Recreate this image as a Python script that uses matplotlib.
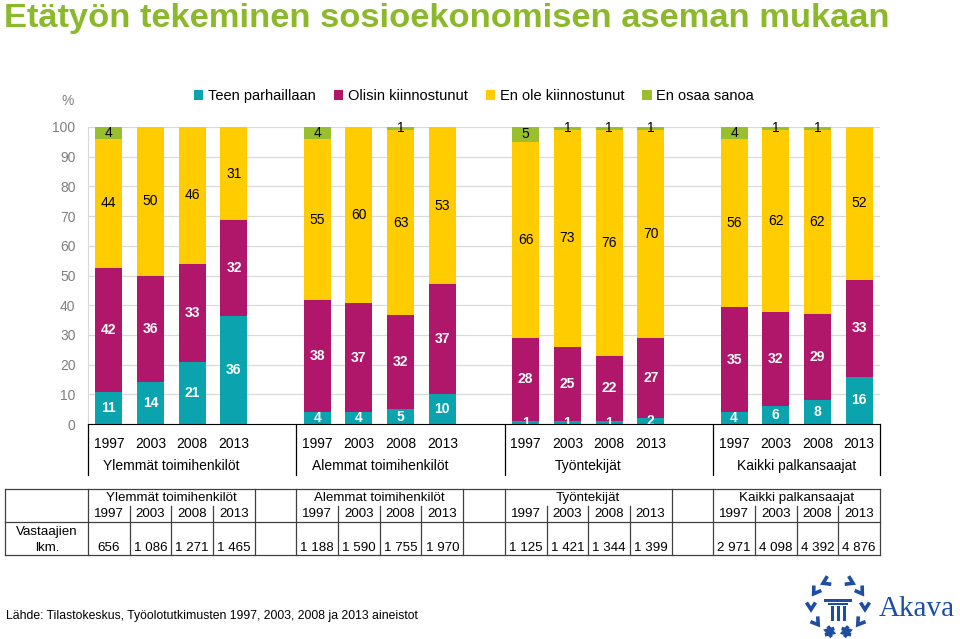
import numpy as np
import matplotlib
matplotlib.use('Agg')
import matplotlib.pyplot as plt
from matplotlib.patches import Rectangle

plt.rcParams['font.family'] = ['Liberation Sans', 'DejaVu Sans']

# data
years = ['1997', '2003', '2008', '2013']
groups = ['Ylemmät toimihenkilöt', 'Alemmat toimihenkilöt', 'Työntekijät', 'Kaikki palkansaajat']
series_names = ['Teen parhaillaan', 'Olisin kiinnostunut', 'En ole kiinnostunut', 'En osaa sanoa']
teen = [11, 14, 21, 36, 4, 4, 5, 10, 1, 1, 1, 2, 4, 6, 8, 16]
olisin = [42, 36, 33, 32, 38, 37, 32, 37, 28, 25, 22, 27, 35, 32, 29, 33]
en_ole = [44, 50, 46, 31, 55, 60, 63, 53, 66, 73, 76, 70, 56, 62, 62, 52]
en_osaa = [4, 0, 0, 0, 4, 0, 1, 0, 5, 1, 1, 1, 4, 1, 1, 0]
respondents = [656, 1086, 1271, 1465, 1188, 1590, 1755, 1970,
               1125, 1421, 1344, 1399, 2971, 4098, 4392, 4876]

colors = ['#0AA3AE', '#B0176B', '#FFCC00', '#99BF2E']
label_colors = ['white', 'white', 'black', 'black']
label_weights = ['bold', 'bold', 'normal', 'normal']

W, H = 960, 639
fig = plt.figure(figsize=(9.6, 6.39), dpi=100)


def fx(px):
    return px / W


def fy(py):
    return 1 - py / H


# main chart, x in "slots": 4 bars + 1 empty slot per group
ax = fig.add_axes([fx(88), fy(424), fx(880 - 88), fy(127) - fy(424)])
x = np.array([g * 5 + i for g in range(len(groups)) for i in range(len(years))])

raw = np.array([teen, olisin, en_ole, en_osaa], dtype=float)
share = raw / raw.sum(axis=0) * 100

bottom = np.zeros(len(x))
handles = []
for k in range(4):
    b = ax.bar(x, share[k], 0.65, bottom=bottom, color=colors[k], label=series_names[k], zorder=3)
    handles.append(b)
    for xi, bi, hi, v in zip(x, bottom, share[k], raw[k]):
        if v > 0:
            ax.text(xi, bi + hi / 2, f'{int(v)}', ha='center', va='center', fontsize=10,
                    color=label_colors[k], fontweight=label_weights[k], zorder=4, clip_on=False)
    bottom += share[k]

ax.set_xlim(-0.5, 18.5)
ax.set_ylim(0, 100)
ax.set_yticks(range(0, 101, 10))
ax.tick_params(axis='y', length=0, pad=9, labelsize=10, labelcolor='#7F7F7F')
ax.set_xticks(x)
ax.set_xticklabels(years * len(groups))
ax.tick_params(axis='x', length=0, pad=9, labelsize=10)
ax.grid(axis='y', color='#D9D9D9', linewidth=0.9, zorder=0)
for s in ['top', 'right']:
    ax.spines[s].set_visible(False)
ax.spines['left'].set_color('#D9D9D9')
ax.spines['bottom'].set_color('black')
ax.spines['bottom'].set_zorder(5)
fig.text(fx(68), fy(101), '%', ha='center', va='center', fontsize=10, color='#7F7F7F')

# overlay axes in pixel coordinates for table, separators and footer
ov = fig.add_axes([0, 0, 1, 1], zorder=-1)
ov.set_xlim(0, W)
ov.set_ylim(H, 0)
ov.axis('off')
ov.patch.set_alpha(0)

slot_w = (880 - 88) / 19.0


def sx(s):
    return 88 + (s + 0.5) * slot_w


# group separators under the x axis
for e in [-0.5, 4.5, 9.5, 14.5, 18.5]:
    ov.plot([sx(e), sx(e)], [424, 475], color='black', lw=0.9)
for g, name in enumerate(groups):
    ov.text(sx(g * 5 + 1.5), 466, name, ha='center', va='center', fontsize=10)

# legend
fig.legend(handles=handles, loc='center', bbox_to_anchor=(fx(474), fy(96)), ncol=4,
           frameon=False, fontsize=10.5, handlelength=0.65, handleheight=0.65,
           handletextpad=0.3, columnspacing=1.25)

# title
fig.text(fx(4), fy(18), 'Etätyön tekeminen sosioekonomisen aseman mukaan', ha='left',
         va='center', fontsize=24.8, fontweight='bold', color='#8CB92B')

# respondents table
tc = '#404040'
tl = 0.9
fs = 9.6
for yy in [489, 522, 555]:
    ov.plot([5, 880], [yy, yy], color=tc, lw=tl)
for xx in [5, sx(-0.5)]:
    ov.plot([xx, xx], [489, 555], color=tc, lw=tl)
for g in range(len(groups)):
    s0 = g * 5
    ov.plot([sx(s0 + 3.5)] * 2, [489, 555], color=tc, lw=tl)
    if g < len(groups) - 1:
        ov.plot([sx(s0 + 4.5)] * 2, [489, 555], color=tc, lw=tl)
    for i in range(1, 4):
        ov.plot([sx(s0 + i - 0.5)] * 2, [506, 555], color=tc, lw=tl)
    ov.text(sx(s0 + 1.5), 498, groups[g], ha='center', va='center', fontsize=fs)
    for i, yr in enumerate(years):
        n = respondents[g * 4 + i]
        ov.text(sx(s0 + i), 514, yr, ha='center', va='center', fontsize=fs)
        ov.text(sx(s0 + i), 548, f'{n:,}'.replace(',', ' '), ha='center', va='center', fontsize=fs)
ov.text(47, 532, 'Vastaajien', ha='center', va='center', fontsize=fs)
ov.text(47, 548, 'lkm.', ha='center', va='center', fontsize=fs)

# source
ov.text(6, 616, 'Lähde: Tilastokeskus, Työolotutkimusten 1997, 2003, 2008 ja 2013 aineistot',
        ha='left', va='center', fontsize=8.8)

# Akava logo (simplified laurel wreath with a column)
blue = '#1D4EA0'
cx, cy, r = 838, 606, 27
for side in [-1, 1]:
    for ang in [-108, -72, -36, 0, 34, 64]:
        a = np.radians(ang)
        p = np.array([cx + side * r * np.cos(a), cy - r * np.sin(a)])
        t = np.array([-side * np.sin(a), -np.cos(a)])
        n = np.array([side * np.cos(a), -np.sin(a)])
        tip = p - t * 3.5
        arm1 = p + t * 3.5 + n * 4.5
        arm2 = p + t * 3.5 - n * 4.5
        ov.plot([arm1[0], tip[0], arm2[0]], [arm1[1], tip[1], arm2[1]], color=blue, lw=2.6,
                solid_capstyle='butt', solid_joinstyle='miter')
ov.add_patch(Rectangle((cx - 14, cy - 7), 28, 3, color=blue, lw=0))
ov.add_patch(Rectangle((cx - 10, cy - 3.5), 20, 2, color=blue, lw=0))
for dx in [-6, 0, 6]:
    ov.add_patch(Rectangle((cx + dx - 1.5, cy - 0.5), 3, 15, color=blue, lw=0))
ov.text(879, 609, 'Akava', ha='left', va='center', fontsize=21, color=blue,
        family=['Liberation Serif', 'DejaVu Serif'])

fig.savefig('out.png', dpi=100)
